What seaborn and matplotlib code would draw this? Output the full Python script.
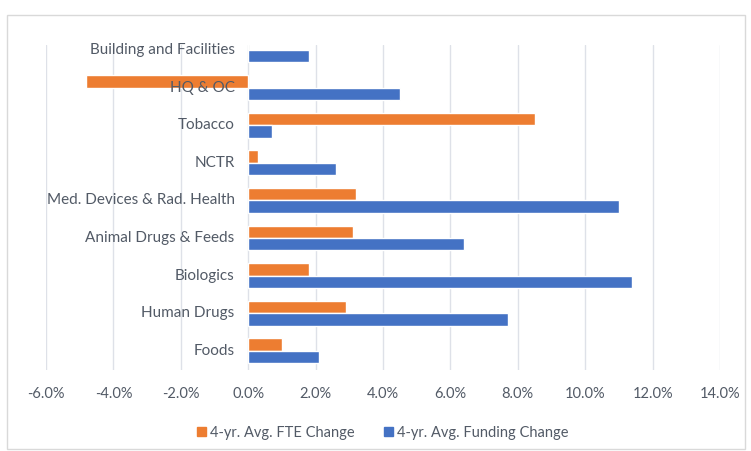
import pandas as pd
import matplotlib.pyplot as plt
import matplotlib.patches as mpatches
from matplotlib.ticker import PercentFormatter, MultipleLocator
import seaborn as sns

# Values (percent)
categories = ["Building and Facilities", "HQ & OC", "Tobacco", "NCTR",
              "Med. Devices & Rad. Health", "Animal Drugs & Feeds",
              "Biologics", "Human Drugs", "Foods"]
fte_change = [0.0, -4.8, 8.5, 0.3, 3.2, 3.1, 1.8, 2.9, 1.0]
funding_change = [1.8, 4.5, 0.7, 2.6, 11.0, 6.4, 11.4, 7.7, 2.1]
series_names = ["4-yr. Avg. FTE Change", "4-yr. Avg. Funding Change"]

sns.set_theme(style="white")
plt.rcParams['font.family'] = ['Lato', 'DejaVu Sans']
plt.rcParams['axes.unicode_minus'] = False

df = pd.DataFrame({
    "Category": categories * 2,
    "Value": fte_change + funding_change,
    "Series": [series_names[0]] * len(categories) + [series_names[1]] * len(categories),
})

text_col = "#525a66"
orange, blue = "#ED7D31", "#4472C4"
fig = plt.figure(figsize=(7.51, 4.51), dpi=100)
ax = fig.add_axes([46 / 751, 81 / 451, 674 / 751, 325 / 451])

sns.barplot(data=df, x="Value", y="Category", hue="Series", order=categories,
            hue_order=series_names, palette=[orange, blue], saturation=1,
            width=0.66, ax=ax, legend=False)

ax.set_xlim(-6, 14)
ax.set_ylim(8.51, -0.13)
ax.xaxis.set_major_locator(MultipleLocator(2))
ax.xaxis.set_major_formatter(PercentFormatter(decimals=1))
ax.grid(axis="x", color="#DEE1E8", linewidth=1)
ax.set_axisbelow(True)
for s in ax.spines.values():
    s.set_visible(False)
ax.set_xlabel("")
ax.set_ylabel("")
ax.tick_params(axis="both", length=0, labelsize=10.5, labelcolor=text_col)
ax.tick_params(axis="x", pad=12)

# category labels sit right next to the zero line, like Excel
ax.set_yticks(range(len(categories)))
ax.set_yticklabels([])
for i, c in enumerate(categories):
    ax.text(-0.4, i, c, ha="right", va="center", fontsize=11, color=text_col)

handles = [mpatches.Patch(color=orange), mpatches.Patch(color=blue)]
ax.legend(handles, series_names, loc="lower center", bbox_to_anchor=(0.5, -0.255),
          ncol=2, frameon=False, fontsize=10.5, handlelength=0.6, handleheight=0.6,
          handletextpad=0.3, columnspacing=2.0, labelcolor=text_col)

fig.patches.append(mpatches.Rectangle((7 / 751, 0.005), 738 / 751, 1 - 15 / 451 - 0.005,
                                      transform=fig.transFigure, fill=False,
                                      edgecolor="#D9D9D9", linewidth=1))

fig.savefig("out.png", dpi=100)
